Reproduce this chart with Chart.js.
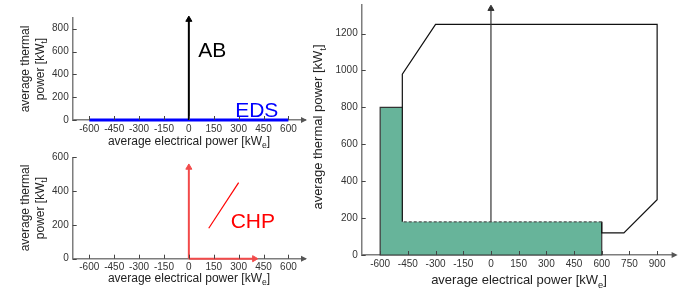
<!DOCTYPE html>
<html>
<head>
<meta charset="utf-8">
<script src="https://cdn.jsdelivr.net/npm/chart.js@4.4.0/dist/chart.umd.min.js"></script>
<style>
  body { margin: 0; background: #fff; }
  #wrap { position: relative; width: 689px; height: 291px; overflow: hidden;
          font-family: "Liberation Sans", Arial, Helvetica, sans-serif; color: #222; }
  canvas { position: absolute; }
  .xt, .yt { position: absolute; white-space: nowrap; text-align: center; }
  .yt { transform: rotate(-90deg); }
  sub { font-size: 0.72em; vertical-align: -0.4em; line-height: 0; }
</style>
</head>
<body>
<div id="wrap">
  <canvas id="c1" width="310" height="150" style="left:0;top:0"></canvas>
  <canvas id="c2" width="310" height="146" style="left:0;top:145px"></canvas>
  <canvas id="c3" width="389" height="291" style="left:300px;top:0"></canvas>

  <div class="xt" style="left:69px;width:240px;top:135px;font-size:12px;line-height:12px">average electrical power [kW<sub>e</sub>]</div>
  <div class="xt" style="left:69px;width:240px;top:272px;font-size:12px;line-height:12px">average electrical power [kW<sub>e</sub>]</div>
  <div class="xt" style="left:399px;width:240px;top:273px;font-size:13px;line-height:13px">average electrical power [kW<sub>e</sub>]</div>

  <div class="yt" style="left:-27px;width:120px;top:54px;height:30px;font-size:12px;line-height:15px">average thermal<br>power [kW<sub>t</sub>]</div>
  <div class="yt" style="left:-27px;width:120px;top:193px;height:30px;font-size:12px;line-height:15px">average thermal<br>power [kW<sub>t</sub>]</div>
  <div class="yt" style="left:218px;width:200px;top:119px;height:16px;font-size:13px;line-height:16px">average thermal power [kW<sub>t</sub>]</div>
</div>
<script>
// top-left: AB and EDS
const abX = [0, 0];
const abY = [0, 880];
const edsX = [-600, 600];
const edsY = [0, 0];

// bottom-left: CHP
const chpThermX = [0, 0];
const chpThermY = [0, 540];
const chpElecX = [0, 395];
const chpElecY = [0, 0];
const chpLineX = [120, 300];
const chpLineY = [180, 450];

// right: combined operating region
const areaX = [-600, -600, -480, -480, 600, 600];
const areaY = [0, 800, 800, 180, 180, 0];
const areaEdgeX = [-480, -600, -600, 600, 600];
const areaEdgeY = [800, 800, 0, 0, 180];
const hullX = [-480, -480, -300, 900, 900, 720, 600, 600, -480];
const hullY = [180, 980, 1250, 1250, 300, 120, 120, 180, 180];
const thermArrowX = [0, 0];
const thermArrowY = [180, 1335];

// ticks
const leftXTicks = [-600, -450, -300, -150, 0, 150, 300, 450, 600];
const abYTicks = [0, 200, 400, 600, 800];
const chpYTicks = [0, 200, 400, 600];
const rightXTicks = [-600, -450, -300, -150, 0, 150, 300, 450, 600, 750, 900];
const rightYTicks = [0, 200, 400, 600, 800, 1000, 1200];

const family = '"Liberation Sans", Arial, Helvetica, sans-serif';

// inward tick marks, arrow at the end of the x axis and text labels
const decor = {
  id: 'decor',
  afterDatasetsDraw(chart, args, opts) {
    const { ctx, chartArea: a, scales: { x, y } } = chart;
    ctx.save();
    ctx.strokeStyle = '#444';
    ctx.lineWidth = 1;
    ctx.beginPath();
    x.ticks.forEach(t => {
      const px = Math.round(x.getPixelForValue(t.value)) + 0.5;
      ctx.moveTo(px, a.bottom);
      ctx.lineTo(px, a.bottom - 4);
    });
    y.ticks.forEach(t => {
      const py = Math.round(y.getPixelForValue(t.value)) + 0.5;
      ctx.moveTo(a.left, py);
      ctx.lineTo(a.left + 4, py);
    });
    ctx.stroke();

    ctx.fillStyle = '#555';
    ctx.beginPath();
    ctx.moveTo(a.right + 2, a.bottom);
    ctx.lineTo(a.right - 4, a.bottom - 3);
    ctx.lineTo(a.right - 4, a.bottom + 3);
    ctx.closePath();
    ctx.fill();

    (opts.labels || []).forEach(l => {
      ctx.font = '21px ' + family;
      ctx.fillStyle = l.color;
      ctx.textBaseline = 'alphabetic';
      ctx.fillText(l.text, x.getPixelForValue(l.x), y.getPixelForValue(l.y));
    });
    ctx.restore();
  }
};

function series(xs, ys, o) {
  return Object.assign({
    data: xs.map((x, i) => ({ x, y: ys[i] })),
    showLine: true,
    pointRadius: 0,
    clip: false,
    tension: 0,
    borderWidth: 1
  }, o);
}

function arrow(color, width, rot) {
  return {
    borderColor: color,
    borderWidth: width,
    pointRadius: [0, 3.5],
    pointStyle: 'triangle',
    pointBackgroundColor: color,
    pointBorderColor: color,
    pointBorderWidth: 1,
    rotation: rot
  };
}

function axis(min, max, ticks, size, isX) {
  return {
    type: 'linear',
    min, max,
    afterBuildTicks: s => { s.ticks = ticks.map(v => ({ value: v })); },
    afterFit: s => {
      if (isX) s.height = size; else s.width = size;
      s.paddingTop = 0; s.paddingBottom = 0; s.paddingLeft = 0; s.paddingRight = 0;
    },
    grid: { display: false, drawTicks: false },
    border: { display: true, color: '#7d7d7d', width: 1.5 },
    ticks: {
      color: '#333',
      font: { size: 10, family },
      padding: isX ? 3 : 4,
      maxRotation: 0,
      autoSkip: false,
      callback: v => String(v)
    }
  };
}

function makeChart(id, datasets, xs, ys, pad, labels) {
  return new Chart(document.getElementById(id), {
    type: 'scatter',
    data: { datasets },
    options: {
      responsive: false,
      animation: false,
      devicePixelRatio: 1,
      layout: { padding: pad },
      plugins: { legend: { display: false }, tooltip: { enabled: false }, decor: { labels } },
      scales: { x: xs, y: ys }
    },
    plugins: [decor]
  });
}

makeChart('c1', [
  series(abX, abY, arrow('#000', 2, 0)),
  series(edsX, edsY, { borderColor: '#0000ff', borderWidth: 3 })
], axis(-700, 700, leftXTicks, 30, true), axis(0, 900, abYTicks, 72.7, false),
  { top: 17.3, right: 5, left: 0, bottom: 0 },
  [{ text: 'AB', x: 56, y: 550, color: '#000' }, { text: 'EDS', x: 279, y: 29, color: '#0000ff' }]);

makeChart('c2', [
  series(chpThermX, chpThermY, arrow('#f24a4a', 2, 0)),
  series(chpElecX, chpElecY, arrow('#f24a4a', 2, 90)),
  series(chpLineX, chpLineY, { borderColor: '#ff0000', borderWidth: 1.2 })
], axis(-700, 700, leftXTicks, 32.3, true), axis(0, 600, chpYTicks, 72.7, false),
  { top: 12.3, right: 5, left: 0, bottom: 0 },
  [{ text: 'CHP', x: 252, y: 180, color: '#ff0000' }]);

makeChart('c3', [
  series(thermArrowX, thermArrowY, arrow('#333', 1.2, 0)),
  series(hullX, hullY, {
    borderColor: '#111', borderWidth: 1.2,
    segment: {
      borderDash: c => c.p0DataIndex === 7 ? [3, 2] : undefined,
      borderColor: c => c.p0DataIndex === 7 ? '#555' : undefined
    }
  }),
  series(areaEdgeX, areaEdgeY, { borderColor: '#333', borderWidth: 1.2 }),
  series(areaX, areaY, { fill: 'origin', backgroundColor: '#67b49a', borderWidth: 0, borderColor: 'rgba(0,0,0,0)' })
], axis(-700, 1000, rightXTicks, 36, true), axis(0, 1355, rightYTicks, 61.7, false),
  { top: 0, right: 13.4, left: 0, bottom: 0 }, []);
</script>
</body>
</html>
